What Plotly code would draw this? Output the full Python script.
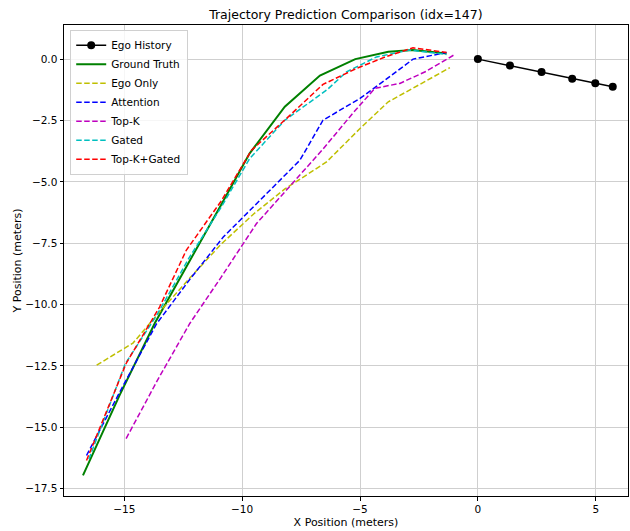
import plotly.graph_objects as go

# Data
ego_hist_x = [5.72, 4.98, 4.00, 2.70, 1.36, 0.0]
ego_hist_y = [-1.13, -0.98, -0.80, -0.53, -0.26, 0.0]

gt_x = [-16.75, -15.2, -13.7, -12.2, -10.9, -9.68, -8.19, -6.7, -5.2, -3.8, -2.75, -1.33]
gt_y = [-16.96, -13.7, -10.75, -8.2, -5.95, -3.84, -1.94, -0.67, 0.0, 0.3, 0.37, 0.23]

ego_only_x = [-16.17, -14.63, -13.5, -12.2, -10.9, -9.5, -8.2, -6.42, -5.0, -3.8, -2.5, -1.19]
ego_only_y = [-12.47, -11.57, -10.3, -8.9, -7.55, -6.3, -5.3, -4.19, -2.83, -1.74, -1.05, -0.35]

attn_x = [-16.6, -15.1, -13.64, -12.2, -10.8, -9.1, -7.55, -6.57, -5.0, -4.0, -2.75, -1.33]
attn_y = [-16.15, -13.4, -10.8, -8.95, -7.25, -5.6, -4.12, -2.49, -1.6, -0.9, 0.0, 0.27]

topk_x = [-14.92, -13.6, -12.22, -10.9, -9.39, -8.0, -6.6, -5.3, -4.37, -3.31, -2.2, -0.98]
topk_y = [-15.46, -13.1, -10.77, -8.9, -6.7, -5.2, -3.7, -2.2, -1.19, -0.99, -0.5, 0.19]

gated_x = [-16.5, -14.95, -13.6, -12.25, -10.9, -9.68, -8.19, -6.4, -5.57, -4.3, -2.89, -1.33]
gated_y = [-16.3, -12.4, -10.4, -8.1, -6.05, -4.05, -2.49, -1.25, -0.52, 0.09, 0.37, 0.19]

tkg_x = [-16.6, -14.92, -13.5, -12.37, -10.9, -9.6, -8.12, -6.57, -5.15, -3.9, -2.75, -1.33]
tkg_y = [-16.35, -12.4, -10.1, -7.79, -5.8, -3.71, -2.42, -1.03, -0.38, 0.1, 0.46, 0.27]

FONT = "DejaVu Sans"
DASH = "5.5px,2.5px"

fig = go.Figure()
fig.add_trace(go.Scatter(x=ego_hist_x, y=ego_hist_y, mode="lines+markers", name="Ego History",
                         line=dict(color="black", width=1.5),
                         marker=dict(color="black", size=8)))
fig.add_trace(go.Scatter(x=gt_x, y=gt_y, mode="lines", name="Ground Truth",
                         line=dict(color="#008000", width=2)))
series = [
    ("Ego Only", ego_only_x, ego_only_y, "#bfbf00"),
    ("Attention", attn_x, attn_y, "#0000ff"),
    ("Top-K", topk_x, topk_y, "#bf00bf"),
    ("Gated", gated_x, gated_y, "#00bfbf"),
    ("Top-K+Gated", tkg_x, tkg_y, "#ff0000"),
]
for name, xs, ys, col in series:
    fig.add_trace(go.Scatter(x=xs, y=ys, mode="lines", name=name,
                             line=dict(color=col, width=1.5, dash=DASH)))

axis_common = dict(showline=True, linecolor="black", linewidth=1, mirror=True,
                   showgrid=True, gridcolor="#cfcfcf", gridwidth=1,
                   ticks="outside", ticklen=3.5, tickcolor="black",
                   zeroline=False, tickfont=dict(family=FONT, size=10.5, color="black"))

fig.update_layout(
    width=630, height=531,
    margin=dict(l=64, r=2, t=25, b=35),
    paper_bgcolor="white", plot_bgcolor="white",
    font=dict(family=FONT, size=11, color="black"),
    title=dict(text="Trajectory Prediction Comparison (idx=147)", x=0.549, xanchor="center",
               y=0.972, yanchor="middle", font=dict(family=FONT, size=12.5, color="black")),
    xaxis=dict(range=[-17.555, 6.367], dtick=5, tick0=0,
               title=dict(text="X Position (meters)", font=dict(family=FONT, size=11), standoff=4),
               **axis_common),
    yaxis=dict(range=[-17.8, 1.39], dtick=2.5, tick0=0, tickformat=".1f",
               title=dict(text="Y Position (meters)", font=dict(family=FONT, size=11), standoff=1),
               **axis_common),
    legend=dict(x=0.011, y=0.99, xanchor="left", yanchor="top",
                bgcolor="rgba(255,255,255,0.8)", bordercolor="#d0d0d0", borderwidth=1,
                font=dict(family=FONT, size=10.5), tracegroupgap=0, itemwidth=30),
    showlegend=True,
)

fig.write_html("out.html", config={"displayModeBar": False},
               post_script="document.body.style.margin='0px';document.body.style.overflow='hidden';")
